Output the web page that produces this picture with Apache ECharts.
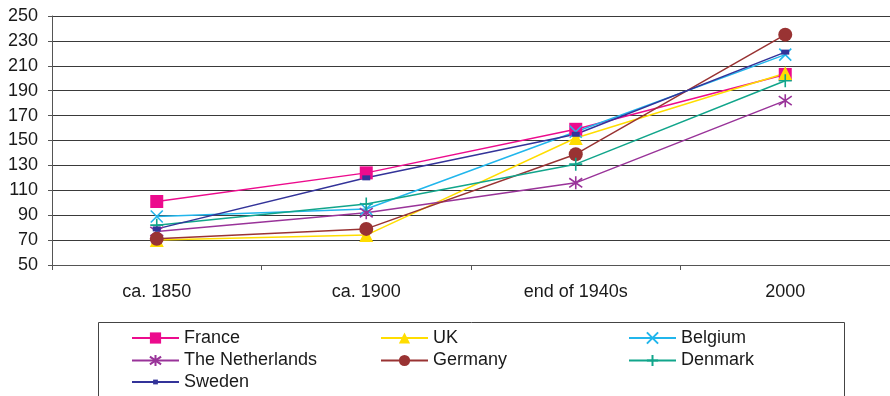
<!DOCTYPE html>
<html>
<head>
<meta charset="utf-8">
<script src="https://cdn.jsdelivr.net/npm/echarts@6/dist/echarts.min.js"></script>
<style>
  html, body { margin: 0; padding: 0; background: #fff; }
  #chart { width: 890px; height: 396px; }
</style>
</head>
<body>
<div id="chart"></div>
<script>
  var categories = ['ca. 1850', 'ca. 1900', 'end of 1940s', '2000'];
  var yTicks = [50, 250, 20]; // min, max, step

  var france = [101, 124, 159, 203];
  var uk = [70, 74, 152, 204];
  var belgium = [89, 95, 157, 219];
  var netherlands = [77, 92, 116, 182];
  var germany = [71, 79, 139, 235];
  var denmark = [82, 99, 131, 198];
  var sweden = [79, 120, 155, 221];

  var font = '"Liberation Sans", Arial, sans-serif';

  // stroke-only marker shapes
  var crossX = 'path://M0,0L10,10M10,0L0,10';
  var star = 'path://M0,1.5L10,8.5M10,1.5L0,8.5M5,0L5,10';
  var plus = 'path://M5,0L5,10M0,5L10,5';

  function makeLine(name, data, color, symbol, size, stroke) {
    return {
      name: name,
      type: 'line',
      data: data,
      symbol: symbol,
      symbolSize: size,
      lineStyle: { color: color, width: 1.5 },
      itemStyle: stroke
        ? { color: 'none', borderColor: color, borderWidth: 1.6 }
        : { color: color, borderWidth: 0 },
      emphasis: { disabled: true },
      animation: false
    };
  }

  var legendBase = {
    orient: 'vertical',
    height: 80,
    itemWidth: 47,
    itemHeight: 14,
    itemGap: 4.5,
    selectedMode: false,
    textStyle: { fontFamily: font, fontSize: 18, color: '#1a1a1a', lineHeight: 18 }
  };

  var chart = echarts.init(document.getElementById('chart'));
  var option = {
    backgroundColor: '#fff',
    animation: false,
    grid: { left: 52, right: -5, top: 16, bottom: 131 },
    xAxis: {
      type: 'category',
      data: categories,
      boundaryGap: true,
      axisLine: { lineStyle: { color: '#555', width: 1 } },
      axisTick: { show: true, length: 5, lineStyle: { color: '#555' } },
      axisLabel: { fontFamily: font, fontSize: 18, color: '#1a1a1a', margin: 18 }
    },
    yAxis: {
      type: 'value',
      min: yTicks[0],
      max: yTicks[1],
      interval: yTicks[2],
      axisLine: { show: true, lineStyle: { color: '#555', width: 1 } },
      axisTick: { show: true, length: 4, lineStyle: { color: '#555' } },
      axisLabel: { fontFamily: font, fontSize: 18, color: '#1a1a1a', margin: 14 },
      splitLine: { lineStyle: { color: '#3a3a3a', width: 1 } }
    },
    legend: [
      Object.assign({}, legendBase, { left: 126, top: 324, data: ['France', 'The Netherlands'] }),
      // Sweden has a small marker, so its icon is drawn smaller
      Object.assign({}, legendBase, { left: 126, top: 368, itemHeight: 6, data: ['Sweden'] }),
      Object.assign({}, legendBase, { left: 375, top: 324, data: ['UK', 'Germany'] }),
      Object.assign({}, legendBase, { left: 623, top: 324, data: ['Belgium', 'Denmark'] })
    ],
    graphic: [{
      type: 'rect',
      shape: { x: 98.5, y: 322.5, width: 746, height: 80 },
      style: { fill: 'none', stroke: '#444', lineWidth: 1 },
      silent: true
    }],
    series: [
      makeLine('France', france, '#EC0B8D', 'rect', 13, false),
      makeLine('UK', uk, '#FFDD00', 'triangle', 14, false),
      makeLine('Belgium', belgium, '#21B6EC', crossX, 12, true),
      makeLine('The Netherlands', netherlands, '#993399', star, 13, true),
      makeLine('Germany', germany, '#993333', 'circle', 14, false),
      makeLine('Denmark', denmark, '#11A58B', plus, 13, true),
      makeLine('Sweden', sweden, '#333399', 'rect', [8, 5], false)
    ]
  };
  chart.setOption(option);
</script>
</body>
</html>
